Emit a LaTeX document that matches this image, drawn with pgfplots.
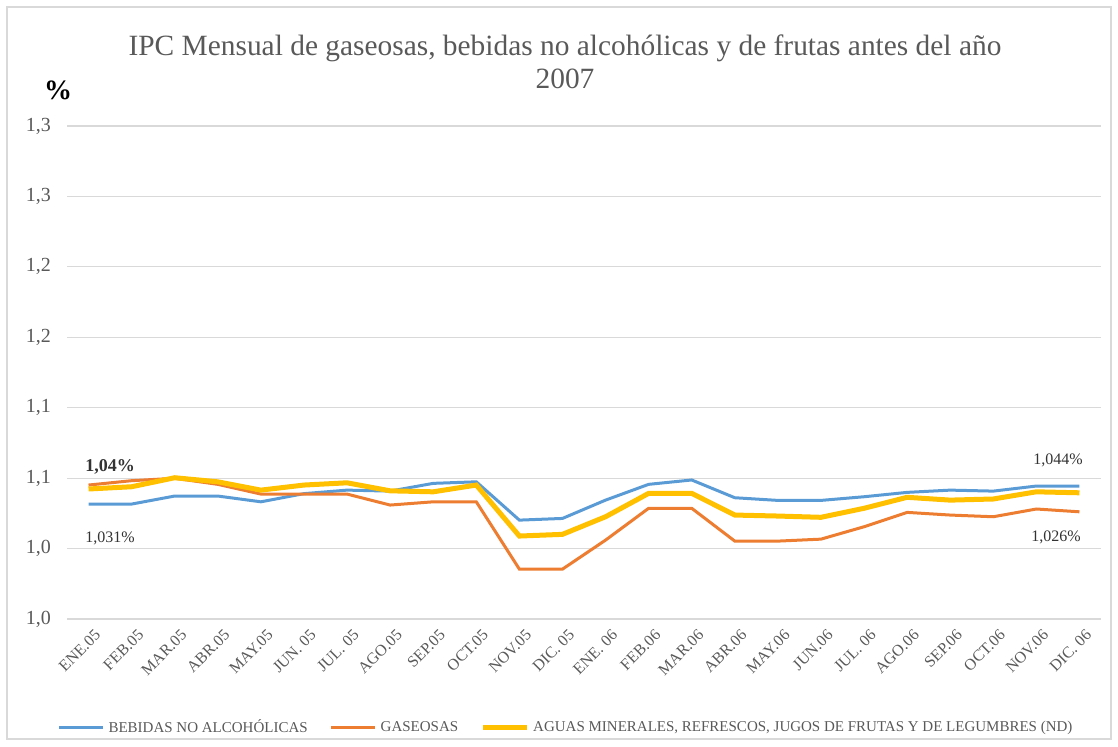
\documentclass[border=0pt]{standalone}
\usepackage{fontspec}
\setmainfont{Liberation Serif}
\usepackage{pgfplots}
\pgfplotsset{compat=1.18}
\definecolor{cblue}{HTML}{5B9BD5}
\definecolor{corange}{HTML}{ED7D31}
\definecolor{cyellow}{HTML}{FFC000}
\definecolor{txtgray}{HTML}{595959}
\definecolor{gridgray}{HTML}{D9D9D9}
\begin{document}
\begin{tikzpicture}
\path (0pt,0pt) rectangle (559pt,373pt);
\draw[draw=gridgray, line width=1pt] (3.5pt,3.5pt) rectangle (555.5pt,369.5pt);
\begin{axis}[
  at={(33.5pt,63.5pt)}, anchor=south west,
  scale only axis, width=517pt, height=246.5pt,
  xmin=-0.5, xmax=23.5, ymin=0.95, ymax=1.30,
  axis line style={draw=none},
  major tick style={draw=none},
  ymajorgrids, grid style={gridgray, line width=0.6pt},
  ytick={0.95,1.00,1.05,1.10,1.15,1.20,1.25,1.30},
  yticklabels={{1,0},{1,0},{1,1},{1,1},{1,2},{1,2},{1,3},{1,3}},
  yticklabel style={font=\fontsize{10}{12}\selectfont, text=txtgray, xshift=-4.5pt},
  xtick={0,...,23},
  xticklabels={ENE.05,FEB.05,MAR.05,ABR.05,MAY.05,{JUN. 05},{JUL. 05},AGO.05,SEP.05,OCT.05,NOV.05,{DIC. 05},{ENE. 06},FEB.06,MAR.06,ABR.06,MAY.06,JUN.06,{JUL. 06},AGO.06,SEP.06,OCT.06,NOV.06,{DIC. 06}},
  xticklabel style={font=\fontsize{8}{10}\selectfont, text=txtgray, rotate=45, anchor=east, xshift=2pt, yshift=-8pt},
  legend columns=3,
  legend style={draw=none, fill=none, at={(axis description cs:0.4836,-0.221)}, anchor=center,
    font=\fontsize{7.5}{9}\selectfont, text=txtgray,
    /tikz/every even column/.append style={column sep=9pt},
    inner sep=0pt},
  legend image code/.code={\draw[#1] (0pt,0pt) -- (22pt,0pt);},
]
\addplot[cblue, line width=1.5pt] coordinates {
(0,1.0316) (1,1.0316) (2,1.0373) (3,1.0373) (4,1.0332) (5,1.0390) (6,1.0415) (7,1.0408)
(8,1.0463) (9,1.0474) (10,1.0202) (11,1.0214) (12,1.0344) (13,1.0456) (14,1.0487) (15,1.0361)
(16,1.0342) (17,1.0342) (18,1.0368) (19,1.0399) (20,1.0415) (21,1.0408) (22,1.0444) (23,1.0444)};
\addlegendentry{BEBIDAS NO ALCOHÓLICAS}
\addplot[corange, line width=1.5pt] coordinates {
(0,1.0451) (1,1.0482) (2,1.0499) (3,1.0456) (4,1.0387) (5,1.0387) (6,1.0387) (7,1.0309)
(8,1.0332) (9,1.0332) (10,0.9854) (11,0.9854) (12,1.0060) (13,1.0286) (14,1.0286) (15,1.0053)
(16,1.0053) (17,1.0067) (18,1.0155) (19,1.0257) (20,1.0238) (21,1.0226) (22,1.0281) (23,1.0261)};
\addlegendentry{GASEOSAS}
\addplot[cyellow, line width=2.5pt] coordinates {
(0,1.0423) (1,1.0439) (2,1.0503) (3,1.0474) (4,1.0415) (5,1.0451) (6,1.0467) (7,1.0410)
(8,1.0403) (9,1.0451) (10,1.0089) (11,1.0101) (12,1.0226) (13,1.0392) (14,1.0392) (15,1.0238)
(16,1.0231) (17,1.0222) (18,1.0286) (19,1.0364) (20,1.0344) (21,1.0352) (22,1.0403) (23,1.0396)};
\addlegendentry{AGUAS MINERALES, REFRESCOS, JUGOS DE FRUTAS Y DE LEGUMBRES (ND)}
\end{axis}
\node[align=center, text=txtgray, font=\fontsize{14.7}{16.5}\selectfont] at (282.5pt,342.3pt)
  {IPC Mensual de gaseosas, bebidas no alcohólicas y de frutas antes del año\\2007};
\node[font=\fontsize{14}{16}\selectfont\bfseries] at (29pt,328pt) {\%};
\node[font=\fontsize{9}{11}\selectfont\bfseries, text=black!80] at (55pt,139.5pt) {1,04\%};
\node[font=\fontsize{8}{10}\selectfont, text=black!80] at (55pt,104pt) {1,031\%};
\node[font=\fontsize{8}{10}\selectfont, text=black!80] at (529pt,143pt) {1,044\%};
\node[font=\fontsize{8}{10}\selectfont, text=black!80] at (528pt,104.5pt) {1,026\%};
\end{tikzpicture}
\end{document}
